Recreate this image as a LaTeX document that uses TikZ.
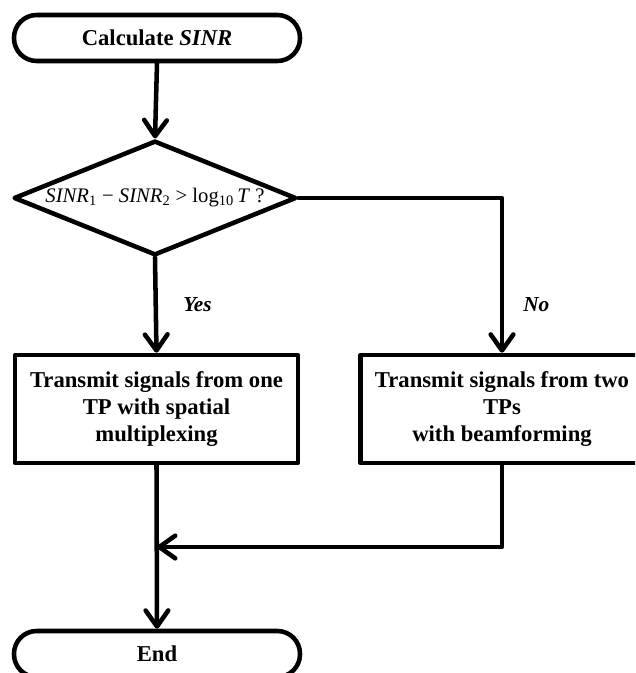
\documentclass[tikz,border=0pt]{standalone}
\usepackage{fontspec}
\setmainfont{Liberation Serif}
\usetikzlibrary{arrows.meta,shapes.geometric}
\begin{document}
\begin{tikzpicture}[x=0.75pt,y=-0.75pt,
  lw/.style={line width=3.4pt, line join=round},
  term/.style={draw, lw, rounded corners=17pt, minimum width=214.5pt, minimum height=34.5pt,
    inner sep=0pt, font=\bfseries\fontsize{17}{20.6}\selectfont},
  procbox/.style={draw, lw, minimum width=212pt, minimum height=81pt, inner sep=0pt,
    align=center, font=\bfseries\fontsize{17}{20.6}\selectfont},
  decbox/.style={draw, lw, diamond, aspect=2.46, inner sep=0pt, minimum width=212pt,
    minimum height=86pt, font=\fontsize{15.5}{19}\selectfont},
  arr/.style={lw, line cap=round, -{Straight Barb[length=12pt,width=17pt,line cap=round,line join=round]}},
  lbl/.style={font=\bfseries\itshape\fontsize{16}{19}\selectfont, inner sep=0pt, anchor=west}
]
\useasboundingbox (0,0) rectangle (635,673);
\clip (0,0) rectangle (635,673);

\node[term] (start) at (157,38) {Calculate \textit{SINR}};
\node[decbox] (dec) at (155,198) {\textit{SINR}\textsubscript{1} − \textit{SINR}\textsubscript{2} > log\textsubscript{10}\,\textit{T} ?};
\node[procbox] (one) at (156.5,409) {Transmit signals from one\\TP with spatial\\multiplexing};
\node[procbox] (two) at (502,409) {Transmit signals from two\\TPs\\with beamforming};
\node[term] (end) at (157,654) {End};
\coordinate (merge) at (157,547);

\draw[arr] (start.south) -- (dec.north);
\draw[arr] (dec.south) -- (one.north);
\draw[arr] (dec.east) -| (two.north);
\draw[arr] (one.south) -- (end.north);
\draw[arr] (two.south) |- (merge);

\node[lbl] (yes) at (183,305) {Yes};
\node[lbl] (no) at (523,305) {No};
\end{tikzpicture}
\end{document}
